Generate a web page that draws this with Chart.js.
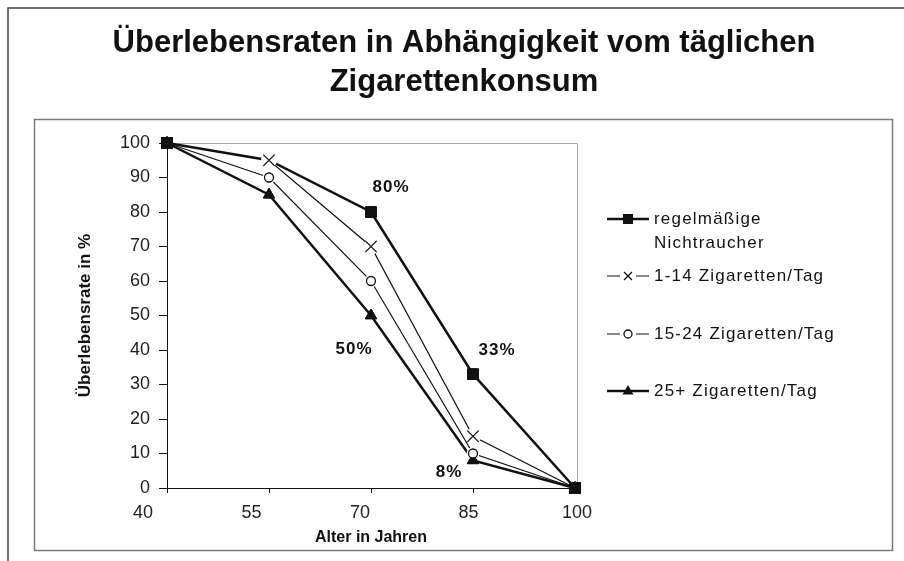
<!DOCTYPE html>
<html lang="de">
<head>
<meta charset="utf-8">
<title>Überlebensraten in Abhängigkeit vom täglichen Zigarettenkonsum</title>
<script src="https://cdn.jsdelivr.net/npm/chart.js@4.4.0/dist/chart.umd.min.js"></script>
<style>
  html, body { margin: 0; padding: 0; background: #fff; }
  #wrap { width: 904px; height: 561px; }
</style>
</head>
<body>
<div id="wrap"><canvas id="chart" width="904" height="561"></canvas></div>
<script>
'use strict';

// ─── Data ─────────────────────────────────────────────────────────────────────
const TITLE_LINES = ['Überlebensraten in Abhängigkeit vom täglichen', 'Zigarettenkonsum'];
const AGES = [40, 55, 70, 85, 100];
const X_TICKS = [40, 55, 70, 85, 100];
const SERIES_LABELS = ['regelmäßige\nNichtraucher', '1-14 Zigaretten/Tag', '15-24 Zigaretten/Tag', '25+ Zigaretten/Tag'];
const NON_SMOKERS = [100, 95, 80, 33, 0];
const LIGHT = [100, 95, 70, 15, 0];
const MEDIUM = [100, 90, 60, 10, 0];
const HEAVY = [100, 85, 50, 8, 0];

// which points carry a percent label: [series, point index]
const LABELLED = [[0, 2], [0, 3], [3, 2], [3, 3]];

const FONT = '"Liberation Sans", Arial, sans-serif';
const INK = '#111';

const pts = vals => vals.map((v, i) => ({ x: AGES[i], y: v }));

// ─── Plugins ──────────────────────────────────────────────────────────────────
const frame = {
  id: 'frame',
  beforeDraw(chart) {
    const { ctx, chartArea: a } = chart;
    ctx.save();
    ctx.fillStyle = '#fff';
    ctx.fillRect(0, 0, chart.width, chart.height);
    // scanned page edges
    ctx.strokeStyle = '#444';
    ctx.lineWidth = 1.5;
    ctx.beginPath();
    ctx.moveTo(8, 561); ctx.lineTo(8, 8); ctx.lineTo(904, 8);
    ctx.stroke();
    // chart box
    ctx.strokeStyle = '#7a7a7a';
    ctx.strokeRect(34.5, 119.5, 858, 431);
    // title
    ctx.fillStyle = INK;
    ctx.font = 'bold 31px ' + FONT;
    ctx.textAlign = 'center';
    ctx.textBaseline = 'alphabetic';
    ctx.fillText(TITLE_LINES[0], 464, 52);
    ctx.fillText(TITLE_LINES[1], 464, 91);
    // light top/right edge of the plot area
    ctx.strokeStyle = '#a8a8a8';
    ctx.lineWidth = 1;
    ctx.beginPath();
    ctx.moveTo(a.left, a.top + 0.5); ctx.lineTo(a.right + 2.5, a.top + 0.5); ctx.lineTo(a.right + 2.5, a.bottom);
    ctx.stroke();
    ctx.restore();
  },
  afterDatasetsDraw(chart) {
    const { ctx } = chart;
    // white halo round the markers of the thin series
    ctx.save();
    ctx.fillStyle = '#fff';
    [1, 2].forEach(di => {
      const halo = di === 1 ? 8 : 6.5;
      chart.getDatasetMeta(di).data.forEach((p, i) => {
        if (i === 0 || i === AGES.length - 1) return;
        ctx.beginPath();
        ctx.arc(p.x, p.y, halo, 0, Math.PI * 2);
        ctx.fill();
      });
    });
    ctx.restore();
    for (let di = chart.data.datasets.length - 1; di >= 0; di--) {
      chart.getDatasetMeta(di).data.forEach(p => p.draw(ctx));
    }
  },
  afterDraw(chart) {
    const { ctx } = chart;
    ctx.save();
    ctx.fillStyle = INK;
    ctx.textAlign = 'center';
    ctx.textBaseline = 'middle';
    ctx.font = 'bold 17px ' + FONT;
    ctx.letterSpacing = '1px';
    const offs = [[20, -25], [24, -24], [-17, 34], [-24, 12]];
    LABELLED.forEach(([di, i], k) => {
      const p = chart.getDatasetMeta(di).data[i];
      const v = chart.data.datasets[di].data[i].y;
      ctx.fillText(v + '%', p.x + offs[k][0], p.y + offs[k][1]);
    });

    // legend
    const rows = [219, 276, 334, 391];
    ctx.font = '17px ' + FONT;
    ctx.letterSpacing = '1.2px';
    ctx.textAlign = 'left';
    chart.data.datasets.forEach((ds, i) => {
      const y = rows[i];
      const thin = ds.borderWidth < 2;
      ctx.strokeStyle = INK;
      ctx.lineWidth = thin ? 1.2 : 2.5;
      ctx.beginPath();
      ctx.moveTo(607, y); ctx.lineTo(649, y);
      ctx.stroke();
      if (thin) { ctx.fillStyle = '#fff'; ctx.fillRect(620, y - 6, 16, 12); }
      ctx.fillStyle = INK;
      ctx.lineWidth = 1.3;
      const cx = 628;
      if (ds.pointStyle === 'rect') {
        ctx.fillRect(cx - 5, y - 5, 10, 10);
      } else if (ds.pointStyle === 'crossRot') {
        ctx.beginPath();
        ctx.moveTo(cx - 4, y - 4); ctx.lineTo(cx + 4, y + 4);
        ctx.moveTo(cx + 4, y - 4); ctx.lineTo(cx - 4, y + 4);
        ctx.stroke();
      } else if (ds.pointStyle === 'circle') {
        ctx.fillStyle = '#fff';
        ctx.beginPath(); ctx.arc(cx, y, 4, 0, Math.PI * 2); ctx.fill(); ctx.stroke();
      } else {
        ctx.beginPath();
        ctx.moveTo(cx, y - 6); ctx.lineTo(cx + 5.5, y + 3.5); ctx.lineTo(cx - 5.5, y + 3.5);
        ctx.closePath(); ctx.fill();
      }
      ctx.fillStyle = INK;
      String(ds.label).split('\n').forEach((line, li) => {
        ctx.fillText(line, 654, y + li * 24);
      });
    });
    ctx.restore();
  }
};

// ─── Chart ────────────────────────────────────────────────────────────────────
const common = { borderColor: INK, pointBorderColor: INK, tension: 0, clip: false };

new Chart(document.getElementById('chart').getContext('2d'), {
  type: 'line',
  data: {
    datasets: [
      { ...common, label: SERIES_LABELS[0], data: pts(NON_SMOKERS), borderWidth: 2.5,
        pointStyle: 'rect', pointRadius: [7.5, 0, 7.5, 7.5, 7.5], pointBackgroundColor: INK, pointBorderWidth: 1 },
      { ...common, label: SERIES_LABELS[1], data: pts(LIGHT), borderWidth: 1.2,
        pointStyle: 'crossRot', pointRadius: 8, pointBorderWidth: 1.3, pointBackgroundColor: INK },
      { ...common, label: SERIES_LABELS[2], data: pts(MEDIUM), borderWidth: 1.2,
        pointStyle: 'circle', pointRadius: 4.5, pointBorderWidth: 1.3, pointBackgroundColor: '#fff' },
      { ...common, label: SERIES_LABELS[3], data: pts(HEAVY), borderWidth: 2.5,
        pointStyle: 'triangle', pointRadius: 6.5, pointBorderWidth: 1, pointBackgroundColor: INK },
    ]
  },
  options: {
    responsive: false,
    animation: false,
    devicePixelRatio: 1,
    layout: { padding: { left: 75, right: 329, top: 143, bottom: 0 } },
    plugins: { legend: { display: false }, tooltip: { enabled: false }, title: { display: false } },
    scales: {
      x: {
        type: 'linear', position: 'bottom', weight: 0, min: 40, max: 100,
        afterBuildTicks: s => { s.ticks = X_TICKS.map(v => ({ value: v })); },
        afterFit: s => { s.height = 5; },
        grid: { drawOnChartArea: false, drawTicks: true, tickLength: 5, color: INK },
        border: { color: INK, width: 1 },
        ticks: { display: false }
      },
      // tick labels of the scan sit a little wider apart than the tick marks
      xLabels: {
        type: 'linear', position: 'bottom', weight: 1, min: 43.32, max: 99.73,
        afterBuildTicks: s => { s.ticks = X_TICKS.map(v => ({ value: v })); },
        afterFit: s => { s.height = 68; },
        grid: { display: false, drawTicks: false },
        border: { display: false },
        ticks: { color: '#222', font: { family: FONT, size: 18 }, padding: 9, autoSkip: false, maxRotation: 0 },
        title: { display: true, text: 'Alter in Jahren', color: INK,
                 font: { family: FONT, size: 16, weight: 'bold' }, padding: { top: 0, bottom: 14 } }
      },
      y: {
        min: 0, max: 100,
        afterFit: s => { s.width = 92; },
        grid: { drawOnChartArea: false, drawTicks: true, tickLength: 8, color: INK },
        border: { color: INK, width: 1 },
        ticks: { stepSize: 10, color: '#222', font: { family: FONT, size: 18 }, padding: 9 },
        title: { display: true, text: 'Überlebensrate in %', color: INK,
                 font: { family: FONT, size: 17, weight: 'bold' }, padding: { top: 0, bottom: 0 } }
      }
    }
  },
  plugins: [frame]
});
</script>
</body>
</html>
